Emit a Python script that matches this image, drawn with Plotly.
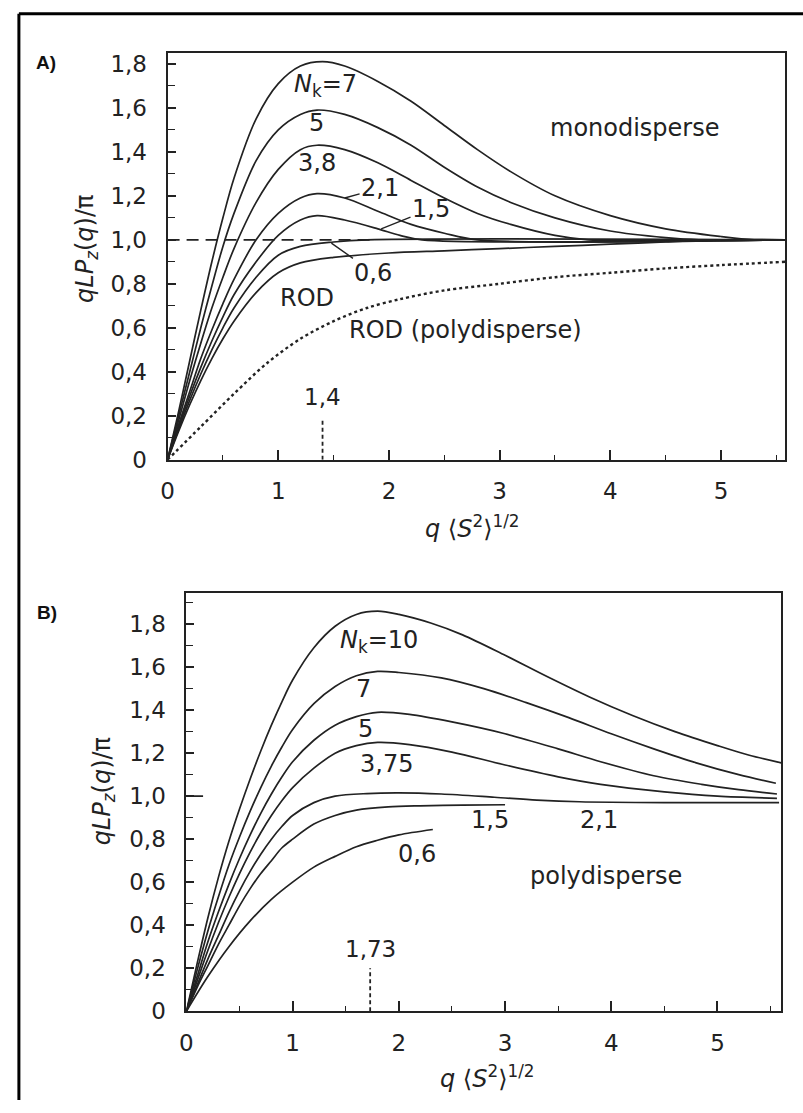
import plotly.graph_objects as go

# ---------------- Panel A (monodisperse) ----------------
a7_x = [0, 0.1, 0.2, 0.3, 0.4, 0.5, 0.6, 0.8, 1.0, 1.2, 1.4, 1.6, 1.9, 2.2, 2.5, 2.8, 3.1, 3.5, 4.0, 4.5, 5.0, 5.3, 5.58]
a7_y = [0, 0.22, 0.45, 0.68, 0.9, 1.1, 1.28, 1.55, 1.71, 1.79, 1.81, 1.79, 1.72, 1.63, 1.52, 1.41, 1.31, 1.2, 1.11, 1.05, 1.015, 1.0, 1.0]
a5_x = [0, 0.1, 0.2, 0.3, 0.4, 0.5, 0.6, 0.8, 1.0, 1.2, 1.35, 1.6, 1.9, 2.2, 2.5, 2.8, 3.1, 3.5, 4.0, 4.5, 4.8, 5.58]
a5_y = [0, 0.2, 0.4, 0.6, 0.79, 0.97, 1.12, 1.36, 1.5, 1.57, 1.59, 1.57, 1.51, 1.43, 1.33, 1.24, 1.17, 1.1, 1.04, 1.01, 1.0, 1.0]
a38_x = [0, 0.1, 0.2, 0.3, 0.4, 0.5, 0.6, 0.8, 1.0, 1.2, 1.35, 1.6, 1.9, 2.2, 2.5, 2.8, 3.1, 3.5, 3.8, 5.58]
a38_y = [0, 0.18, 0.36, 0.53, 0.69, 0.83, 0.96, 1.17, 1.32, 1.41, 1.43, 1.41, 1.35, 1.27, 1.19, 1.12, 1.07, 1.02, 1.0, 1.0]
a21_x = [0, 0.1, 0.2, 0.3, 0.4, 0.5, 0.6, 0.8, 1.0, 1.2, 1.35, 1.6, 1.9, 2.2, 2.5, 2.8, 5.58]
a21_y = [0, 0.16, 0.31, 0.46, 0.59, 0.71, 0.82, 1.0, 1.12, 1.19, 1.21, 1.19, 1.13, 1.07, 1.03, 1.0, 1.0]
a15_x = [0, 0.1, 0.2, 0.3, 0.4, 0.5, 0.6, 0.8, 1.0, 1.2, 1.35, 1.6, 1.9, 2.1, 2.3, 5.58]
a15_y = [0, 0.15, 0.29, 0.42, 0.54, 0.65, 0.75, 0.9, 1.02, 1.09, 1.11, 1.09, 1.05, 1.02, 1.0, 1.0]
a06_x = [0, 0.1, 0.2, 0.3, 0.4, 0.5, 0.6, 0.8, 1.0, 1.2, 1.5, 1.8, 5.58]
a06_y = [0, 0.14, 0.27, 0.39, 0.5, 0.6, 0.69, 0.83, 0.93, 0.97, 0.99, 1.0, 1.0]
arod_x = [0, 0.1, 0.2, 0.3, 0.4, 0.5, 0.6, 0.8, 1.0, 1.2, 1.5, 2.0, 2.5, 3.0, 3.5, 4.0, 4.5, 5.0, 5.58]
arod_y = [0, 0.13, 0.25, 0.36, 0.46, 0.55, 0.63, 0.76, 0.85, 0.895, 0.92, 0.94, 0.95, 0.96, 0.97, 0.98, 0.99, 1.0, 1.0]
arodpoly_x = [0, 0.3, 0.6, 0.9, 1.2, 1.5, 1.8, 2.1, 2.5, 3.0, 3.5, 4.0, 4.5, 5.0, 5.58]
arodpoly_y = [0, 0.15, 0.3, 0.44, 0.55, 0.63, 0.69, 0.73, 0.77, 0.80, 0.83, 0.85, 0.87, 0.885, 0.9]
a_ref_x = [0, 1.85]
a_ref_y = [1.0, 1.0]
a_mark = 1.4

# ---------------- Panel B (polydisperse) ----------------
b10_x = [0, 0.1, 0.2, 0.3, 0.4, 0.5, 0.6, 0.7, 0.8, 0.9, 1.0, 1.2, 1.4, 1.6, 1.8, 2.0, 2.3, 2.6, 3.0, 3.4, 3.8, 4.2, 4.6, 5.0, 5.3, 5.6]
b10_y = [0, 0.22, 0.43, 0.62, 0.79, 0.94, 1.08, 1.21, 1.33, 1.44, 1.54, 1.69, 1.79, 1.845, 1.86, 1.845, 1.805, 1.75, 1.655, 1.555, 1.46, 1.375, 1.3, 1.235, 1.19, 1.155]
b7_x = [0, 0.1, 0.2, 0.3, 0.4, 0.5, 0.6, 0.7, 0.8, 0.9, 1.0, 1.2, 1.4, 1.6, 1.8, 2.0, 2.4, 2.8, 3.2, 3.6, 4.0, 4.4, 4.8, 5.2, 5.55]
b7_y = [0, 0.19, 0.37, 0.53, 0.68, 0.81, 0.93, 1.04, 1.14, 1.23, 1.31, 1.43, 1.51, 1.56, 1.58, 1.575, 1.55, 1.5, 1.435, 1.365, 1.29, 1.22, 1.155, 1.1, 1.06]
b5_x = [0, 0.1, 0.2, 0.3, 0.4, 0.5, 0.6, 0.7, 0.8, 0.9, 1.0, 1.2, 1.4, 1.6, 1.8, 2.1, 2.5, 3.0, 3.5, 3.9, 4.4, 4.85, 5.2, 5.56]
b5_y = [0, 0.16, 0.32, 0.46, 0.59, 0.71, 0.82, 0.92, 1.01, 1.09, 1.16, 1.26, 1.33, 1.37, 1.39, 1.38, 1.345, 1.29, 1.22, 1.16, 1.095, 1.055, 1.03, 1.01]
b375_x = [0, 0.1, 0.2, 0.3, 0.4, 0.5, 0.6, 0.7, 0.8, 0.9, 1.0, 1.2, 1.4, 1.6, 1.8, 2.1, 2.5, 3.0, 3.5, 3.9, 4.5, 5.0, 5.56]
b375_y = [0, 0.14, 0.28, 0.41, 0.53, 0.64, 0.74, 0.83, 0.91, 0.98, 1.04, 1.13, 1.2, 1.235, 1.25, 1.24, 1.205, 1.145, 1.09, 1.055, 1.02, 1.0, 0.99]
b21_x = [0, 0.1, 0.2, 0.3, 0.4, 0.5, 0.6, 0.7, 0.8, 0.9, 1.0, 1.2, 1.4, 1.7, 2.0, 2.4, 2.9, 3.3, 3.7, 4.5, 5.58]
b21_y = [0, 0.12, 0.24, 0.35, 0.46, 0.56, 0.65, 0.73, 0.8, 0.86, 0.91, 0.97, 1.0, 1.012, 1.015, 1.01, 0.995, 0.982, 0.974, 0.97, 0.97]
b15_x = [0, 0.1, 0.2, 0.3, 0.4, 0.5, 0.6, 0.7, 0.8, 0.9, 1.0, 1.2, 1.4, 1.6, 1.9, 2.2, 2.6, 3.0]
b15_y = [0, 0.11, 0.21, 0.31, 0.4, 0.49, 0.57, 0.64, 0.7, 0.76, 0.8, 0.87, 0.91, 0.935, 0.95, 0.955, 0.958, 0.96]
b06_x = [0, 0.2, 0.4, 0.6, 0.8, 1.0, 1.2, 1.4, 1.6, 1.8, 2.0, 2.32]
b06_y = [0, 0.16, 0.3, 0.42, 0.52, 0.6, 0.67, 0.72, 0.765, 0.795, 0.82, 0.845]
b_mark = 1.73

# tick labels
a_yticks = [0, 0.2, 0.4, 0.6, 0.8, 1.0, 1.2, 1.4, 1.6, 1.8]
a_yticktext = ["0", "0,2", "0,4", "0,6", "0,8", "1,0", "1,2", "1,4", "1,6", "1,8"]
xticks = [0, 1, 2, 3, 4, 5]
xticktext = ["0", "1", "2", "3", "4", "5"]

W, H = 803, 1113
INK = "#222222"
FONT = "DejaVu Sans"
LW = 1.7

fig = go.Figure()


def curve(x, y, xa, ya, dash=None, width=LW):
    fig.add_trace(go.Scatter(x=x, y=y, mode="lines", xaxis=xa, yaxis=ya,
                             line=dict(color=INK, width=width, shape="spline", smoothing=0.9,
                                       dash=dash),
                             hoverinfo="skip", showlegend=False))


for xs, ys in [(a7_x, a7_y), (a5_x, a5_y), (a38_x, a38_y), (a21_x, a21_y),
               (a15_x, a15_y), (a06_x, a06_y), (arod_x, arod_y)]:
    curve(xs, ys, "x", "y")
curve(arodpoly_x, arodpoly_y, "x", "y", dash="dot", width=2.4)
fig.add_trace(go.Scatter(x=a_ref_x, y=a_ref_y, mode="lines", xaxis="x", yaxis="y",
                         line=dict(color=INK, width=1.7, dash="12px,7px"),
                         hoverinfo="skip", showlegend=False))
fig.add_trace(go.Scatter(x=[a_mark, a_mark], y=[0, 0.19], mode="lines", xaxis="x", yaxis="y",
                         line=dict(color=INK, width=1.8, dash="4px,3px"),
                         hoverinfo="skip", showlegend=False))

for xs, ys in [(b10_x, b10_y), (b7_x, b7_y), (b5_x, b5_y), (b375_x, b375_y),
               (b21_x, b21_y), (b15_x, b15_y), (b06_x, b06_y)]:
    curve(xs, ys, "x2", "y2")
fig.add_trace(go.Scatter(x=[b_mark, b_mark], y=[0, 0.2], mode="lines", xaxis="x2", yaxis="y2",
                         line=dict(color=INK, width=1.8, dash="4px,3px"),
                         hoverinfo="skip", showlegend=False))

axis_common = dict(showline=True, linecolor=INK, linewidth=2, mirror=True,
                   ticks="inside", tickcolor=INK, tickwidth=1.6, showgrid=False,
                   zeroline=False, tickfont=dict(family=FONT, size=23, color=INK),
                   fixedrange=True)

fig.update_layout(
    width=W, height=H, margin=dict(l=0, r=0, t=0, b=0),
    paper_bgcolor="white", plot_bgcolor="white", showlegend=False,
    xaxis=dict(domain=[162 / W, 785 / W], range=[0, 5.58], anchor="y",
               tickvals=xticks, ticktext=xticktext, ticklen=10,
               minor=dict(dtick=0.5, tick0=0, ticks="inside", ticklen=5, tickcolor=INK, tickwidth=1.4),
               ticklabelstandoff=10, **axis_common),
    yaxis=dict(domain=[1 - 464 / H, 1 - 52 / H], range=[0, 1.848], anchor="x",
               tickvals=a_yticks, ticktext=a_yticktext, ticklen=8,
               minor=dict(dtick=0.1, tick0=0, ticks="inside", ticklen=7, tickcolor=INK, tickwidth=1.4),
               ticklabelstandoff=14, **axis_common),
    xaxis2=dict(domain=[181 / W, 781 / W], range=[0, 5.6], anchor="y2",
                tickvals=xticks, ticktext=xticktext, ticklen=10,
                minor=dict(dtick=0.5, tick0=0, ticks="inside", ticklen=5, tickcolor=INK, tickwidth=1.4),
                ticklabelstandoff=10, **axis_common),
    yaxis2=dict(domain=[1 - 1023 / H, 1 - 599 / H], range=[0, 1.945], anchor="x2",
                tickvals=a_yticks, ticktext=a_yticktext, ticklen=8,
                minor=dict(dtick=0.1, tick0=0, ticks="inside", ticklen=7, tickcolor=INK, tickwidth=1.4),
                ticklabelstandoff=14, **axis_common),
)

# longer tick at 1,0 on panel B's y axis
fig.add_shape(type="line", xref="x2 domain", yref="y2", x0=0, x1=0.028, y0=1.0, y1=1.0,
              line=dict(color=INK, width=1.6))


def label(text, x, y, xr="x", yr="y", xanchor="center", size=24):
    fig.add_annotation(text=text, x=x, y=y, xref=xr, yref=yr, showarrow=False,
                       xanchor=xanchor, yanchor="middle",
                       font=dict(family=FONT, size=size, color=INK))


def pointer(text, x, y, tx, ty, xr="x", yr="y"):
    fig.add_annotation(text=text, x=x, y=y, ax=tx, ay=ty, xref=xr, yref=yr,
                       axref=xr, ayref=yr, showarrow=True, arrowhead=0,
                       arrowwidth=1.4, arrowcolor=INK, standoff=0,
                       font=dict(family=FONT, size=24, color=INK))


# Panel A labels
label("<i>N</i><sub>k</sub>=7", 1.43, 1.70)
label("5", 1.35, 1.53)
label("3,8", 1.35, 1.35)
pointer("2,1", 1.6, 1.19, 1.92, 1.235)
pointer("1,5", 1.93, 1.05, 2.38, 1.14)
pointer("0,6", 1.48, 0.985, 1.86, 0.85)
label("ROD", 1.26, 0.735)
label("ROD (polydisperse)", 1.62, 0.59, xanchor="left")
label("monodisperse", 4.22, 1.51)
label("1,4", a_mark, 0.285, size=23)

# Panel B labels
label("<i>N</i><sub>k</sub>=10", 1.81, 1.72, "x2", "y2")
label("7", 1.67, 1.50, "x2", "y2")
label("5", 1.69, 1.31, "x2", "y2")
label("3,75", 1.88, 1.15, "x2", "y2")
label("1,5", 2.86, 0.89, "x2", "y2")
label("2,1", 3.88, 0.89, "x2", "y2")
label("0,6", 2.17, 0.73, "x2", "y2")
label("polydisperse", 3.95, 0.63, "x2", "y2")
label("1,73", b_mark, 0.29, "x2", "y2", size=23)

# axis titles
ytitle = "<i>qLP</i><sub><i>z</i></sub>(<i>q</i>)/π"
xtitle = "<i>q</i> ⟨<i>S</i><sup>2</sup>⟩<sup>1/2</sup>"
for (tx, ty, ang, txt) in [(80, 250, -90, ytitle), (97, 800, -90, ytitle),
                           (470, 532, 0, xtitle), (485, 1090, 0, xtitle)]:
    fig.add_annotation(text=txt, x=tx / W, y=1 - ty / H, xref="paper", yref="paper",
                       xanchor="center", yanchor="middle", textangle=ang, showarrow=False,
                       font=dict(family=FONT, size=24, color=INK))

# panel letters
fig.add_annotation(text="<b>A)</b>", x=27 / W, y=1 - 61 / H, xref="paper", yref="paper",
                   xanchor="left", yanchor="middle", showarrow=False,
                   font=dict(family="Liberation Sans", size=19, color="#111"))
fig.add_annotation(text="<b>B)</b>", x=28 / W, y=1 - 619 / H, xref="paper", yref="paper",
                   xanchor="left", yanchor="middle", showarrow=False,
                   font=dict(family="Liberation Sans", size=19, color="#111"))

# outer frame (left and top edges)
fig.add_shape(type="line", xref="paper", yref="paper", x0=12 / W, x1=12 / W, y0=0, y1=1 - 12 / H,
              line=dict(color="black", width=3))
fig.add_shape(type="line", xref="paper", yref="paper", x0=12 / W, x1=1, y0=1 - 12 / H, y1=1 - 12 / H,
              line=dict(color="black", width=3))

fig.write_html("out.html")
